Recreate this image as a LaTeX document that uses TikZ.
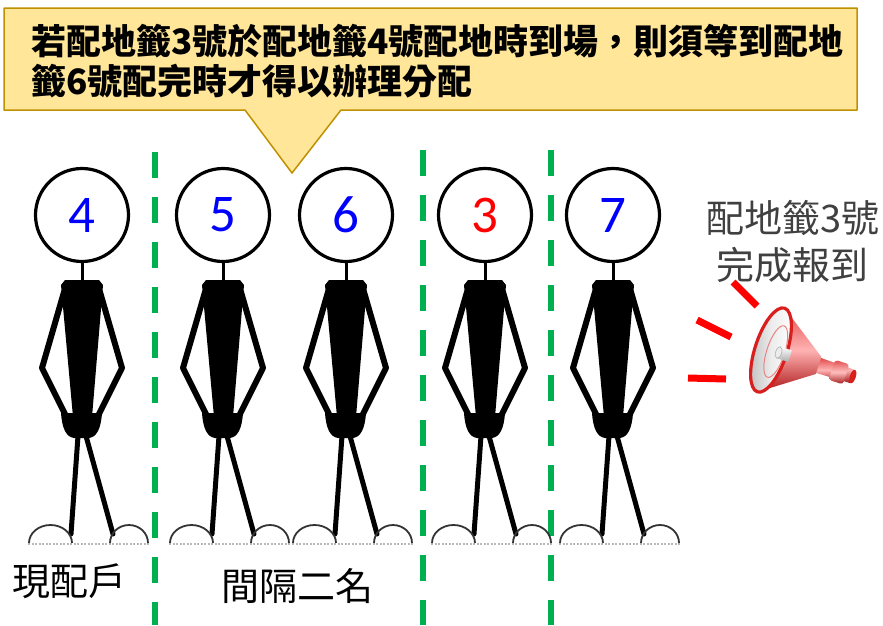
\documentclass[tikz,border=0pt]{standalone}
\usepackage{fontspec}
\setmainfont{Carlito}
\newfontfamily\cjk{Noto Sans CJK TC}
\definecolor{notefill}{HTML}{FFE699}
\definecolor{noteedge}{HTML}{BF9000}
\definecolor{lanegreen}{HTML}{00B050}
\definecolor{textgray}{HTML}{404040}
\definecolor{hornred}{HTML}{D91E1E}

\tikzset{
  lane/.style={lanegreen, line width=6, dash pattern=on 26pt off 19pt},
  headring/.style={circle, draw, line width=3.2, minimum size=93, inner sep=0,
    font=\fontsize{53}{53}\selectfont},
  limb/.style={line width=6, line join=round, line cap=round},
  leg/.style={line width=5, line cap=round},
  shoe/.style={line width=1.8, black!80},
  ground/.style={gray!55, line width=2, dash pattern=on 2pt off 1.5pt},
  bigcjk/.style={inner sep=0, font=\cjk\fontsize{38}{40}\selectfont},
  notetext/.style={inner sep=0, font=\cjk\bfseries\fontsize{35}{38}\selectfont},
  shout/.style={red, line width=7},
}

\begin{document}
\begin{tikzpicture}[x=1pt, y=-1pt]
\useasboundingbox (0,0) rectangle (883,625);

% speech bubble with its pointer
\draw[fill=notefill, draw=noteedge, line width=1.5, line join=round]
  (4,8) -- (857,8) -- (857,110) -- (341,110) -- (292,173) -- (245,110) -- (4,110) -- cycle;
\node[notetext, anchor=base west] (noteA) at (31,54) {若配地籤3號於配地籤4號配地時到場，則須等到配地};
\node[notetext, anchor=base west] (noteB) at (31,94) {籤6號配完時才得以辦理分配};

% queue separators
\coordinate (laneAtop) at (155,152); \coordinate (laneAbot) at (155,625);
\coordinate (laneBtop) at (423,150); \coordinate (laneBbot) at (423,625);
\coordinate (laneCtop) at (551,150); \coordinate (laneCbot) at (551,625);
\draw[lane] (laneAtop) -- (laneAbot);
\draw[lane] (laneBtop) -- (laneBbot);
\draw[lane] (laneCtop) -- (laneCbot);

% stick figures
\foreach \x/\n/\c in {82/4/blue, 223/5/blue, 346/6/blue, 485/3/red, 613/7/blue} {
  \node[headring, text=\c] (head\n) at (\x,215) {\n};
  \draw[line width=3] (head\n.south) -- (\x,282);
  % torso
  \fill (\x-21,285) -- (\x-17,280) -- (\x+17,280) -- (\x+21,285)
        -- (\x+10,417) -- (\x-9,417) -- cycle;
  % hips
  \fill (\x-21,413) -- (\x+20,413) .. controls (\x+19,428) and (\x+15,437) .. (\x+7,438)
        -- (\x-8,438) .. controls (\x-16,437) and (\x-20,428) .. (\x-21,413) -- cycle;
  % arms
  \draw[limb] (\x-18,292) -- (\x-40,368) -- (\x-15,418);
  \draw[limb] (\x+18,292) -- (\x+40,368) -- (\x+15,418);
  % legs
  \draw[leg] (\x-4,436) -- (\x-11,534);
  \draw[leg] (\x+4,436) -- (\x+31,534);
  % shoes and ground
  \draw[ground] (\x-54,544) -- (\x+67,544);
  \draw[shoe] (\x-53,543) arc[start angle=180, end angle=360, x radius=21.5, y radius=18];
  \draw[shoe] (\x+28,543) arc[start angle=180, end angle=360, x radius=19, y radius=18];
}

% labels under the queue
\node[bigcjk, anchor=base west] (current) at (12,595) {現配戶};
\node[bigcjk, anchor=base west] (gap) at (221,600) {間隔二名};

% announcement
\node[bigcjk, text=textgray, anchor=base west] (callA) at (706,232) {配地籤3號};
\node[bigcjk, text=textgray, anchor=base west] (callB) at (716,279) {完成報到};

% sound strokes
\draw[shout] (733,282) -- (757,306);
\draw[shout] (697,320) -- (731,337);
\draw[shout] (688,378) -- (726,379);

% megaphone
\begin{scope}[shift={(771,350)}, rotate=-18]
  % tube and ring
  \shade[top color=hornred!85, bottom color=hornred!75!black, middle color=red!30!white]
    (46,-8) -- (86,-7) -- (86,7) -- (46,8) -- cycle;
  \shade[top color=hornred!80, bottom color=hornred!75!black, middle color=red!25!white, rounded corners=3]
    (64,-10.5) rectangle (79,10.5);
  \fill[hornred] (86,0) ellipse[x radius=3, y radius=7];
  % bell outside
  \shade[top color=hornred!80, bottom color=hornred!80!black, middle color=red!30!white]
    (0,-44) -- (50,-9) -- (50,9) -- (0,44) -- cycle;
  % bell inside
  \shade[left color=gray!50, right color=white, middle color=gray!15, draw=hornred, line width=3.2]
    (0,0) ellipse[x radius=16, y radius=44];
  \draw[hornred!55, line width=1] (5,0) ellipse[x radius=9, y radius=27];
  % driver
  \shade[top color=white, bottom color=gray!65] (8,-6) rectangle (20,6);
  \fill[gray!15, draw=gray!60, line width=0.6] (8,0) ellipse[x radius=3, y radius=6];
\end{scope}
\end{tikzpicture}
\end{document}
